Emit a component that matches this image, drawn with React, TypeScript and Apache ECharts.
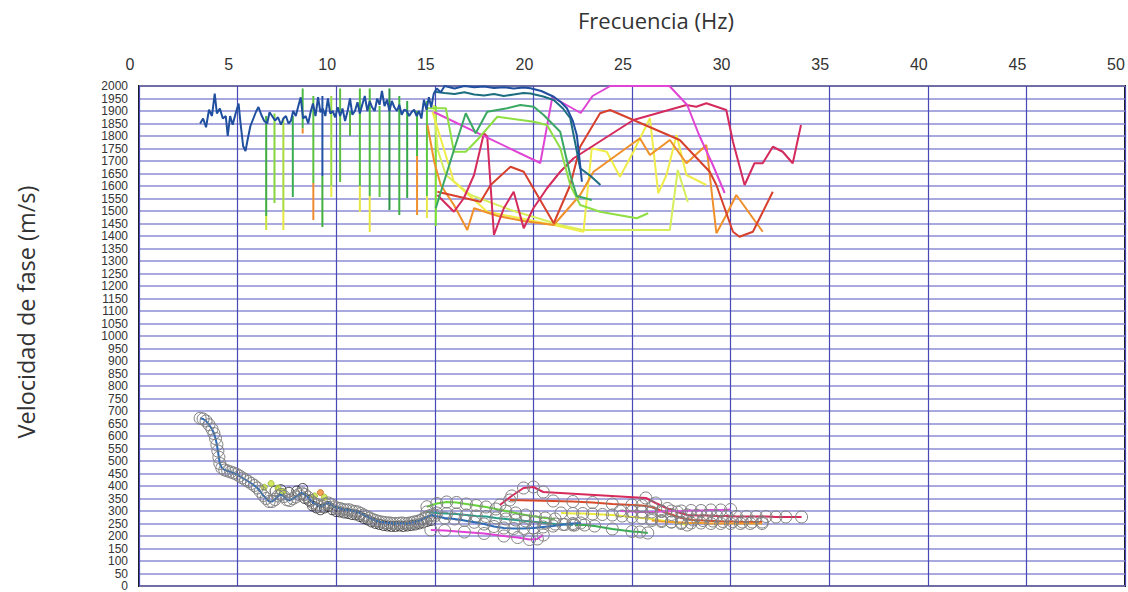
import React, { useEffect, useRef } from "react";
import * as echarts from "echarts";

type Pt = [number, number];

// ---------- upper band: picked phase-velocity traces (Hz, m/s) ----------
const upperBlue: Pt[] = [
  [3.1, 1850], [3.25, 1870], [3.4, 1835], [3.55, 1905], [3.7, 1880], [3.84, 1970], [3.95, 1890],
  [4.1, 1910], [4.25, 1870], [4.4, 1880], [4.5, 1800], [4.62, 1880], [4.75, 1845], [4.9, 1890],
  [5.05, 1930], [5.15, 1850], [5.28, 1760], [5.4, 1740], [5.52, 1790], [5.65, 1840], [5.8, 1870],
  [5.95, 1900], [6.06, 1916], [6.2, 1885], [6.35, 1860], [6.5, 1850], [6.62, 1895], [6.75, 1880],
  [6.9, 1862], [7.05, 1875], [7.2, 1845], [7.32, 1870], [7.45, 1880], [7.58, 1850], [7.7, 1860],
  [7.82, 1900], [7.95, 1880], [8.08, 1920], [8.2, 1955], [8.32, 1870], [8.45, 1880], [8.58, 1850],
  [8.7, 1895], [8.82, 1930], [8.95, 1880], [9.08, 1955], [9.2, 1895], [9.32, 1910], [9.45, 1880],
  [9.58, 1950], [9.7, 1890], [9.82, 1900], [9.95, 1875], [10.08, 1915], [10.2, 1880], [10.32, 1910],
  [10.45, 1860], [10.58, 1900], [10.7, 1950], [10.82, 1885], [10.95, 1900], [11.08, 1935], [11.2, 1890],
  [11.32, 1925], [11.45, 1960], [11.58, 1900], [11.7, 1940], [11.82, 1915], [11.95, 1900], [12.08, 1950],
  [12.2, 1925], [12.32, 1980], [12.45, 1920], [12.58, 1945], [12.7, 1900], [12.82, 1940], [12.95, 1915],
  [13.08, 1900], [13.2, 1925], [13.32, 1885], [13.45, 1905], [13.58, 1900], [13.7, 1880], [13.82, 1895],
  [13.95, 1905], [14.08, 1880], [14.2, 1900], [14.32, 1870], [14.45, 1945], [14.58, 1905], [14.7, 1955],
  [14.82, 1915], [14.95, 1970], [15.1, 1990], [15.3, 1975], [15.5, 2000], [16.0, 1990], [16.5, 2000],
  [17.0, 1995], [17.5, 1998], [18.0, 1992], [18.5, 1995], [19.0, 1990], [19.5, 1994], [19.85, 1991],
  [20.4, 1980], [21.03, 1957], [21.4, 1935], [21.7, 1911], [22.0, 1860], [22.2, 1804], [22.35, 1700],
  [22.46, 1617],
];

const upperTeal: Pt[] = [
  [14.97, 1977], [15.5, 1972], [16.0, 1968], [16.5, 1975], [17.0, 1966], [17.5, 1962], [18.0, 1968],
  [18.5, 1960], [19.0, 1966], [19.5, 1972], [19.85, 1970], [20.5, 1958], [21.03, 1944], [21.5, 1910],
  [21.87, 1871], [22.1, 1780], [22.37, 1671], [22.9, 1640], [23.4, 1604],
];

const upperGreen: Pt[] = [
  [15.05, 1511], [15.97, 1744], [16.57, 1891], [17.07, 1811], [17.66, 1897], [18.67, 1911],
  [19.34, 1924], [20.02, 1917], [20.52, 1884], [21.36, 1817], [21.87, 1644], [22.2, 1560], [22.96, 1544],
];

const upperLightGreen: Pt[] = [
  [14.63, 1911], [15.56, 1911], [15.97, 1737], [16.57, 1737], [17.15, 1784], [18.17, 1877],
  [20.02, 1857], [20.69, 1844], [21.36, 1752], [21.87, 1604], [22.37, 1524], [23.38, 1497],
  [25.24, 1471], [25.82, 1491],
];

const upperMagenta: Pt[] = [
  [14.95, 1896], [20.35, 1692], [20.96, 1956], [22.4, 1892], [23.0, 1960], [23.9, 2000],
  [26.9, 2000], [27.8, 1924], [28.4, 1804], [29.1, 1684], [29.7, 1572],
];

const upperCrimson: Pt[] = [
  [15.13, 1564], [15.97, 1497], [16.47, 1551], [16.99, 1644], [17.49, 1811], [17.66, 1797],
  [18.0, 1404], [18.5, 1511], [19.0, 1577], [19.51, 1431], [20.0, 1511], [20.69, 1591],
  [21.36, 1657], [22.04, 1711], [25.07, 1864], [27.76, 1924], [28.26, 1917], [28.77, 1931],
  [29.78, 1904], [30.12, 1777], [30.71, 1604], [31.21, 1691], [31.63, 1691], [32.14, 1757],
  [32.64, 1737], [33.15, 1691], [33.57, 1844],
];

const upperRed: Pt[] = [
  [15.13, 1577], [17.32, 1537], [17.83, 1604], [18.84, 1677], [19.51, 1657], [21.03, 1451],
  [21.87, 1604], [22.37, 1757], [23.38, 1891], [23.89, 1904], [25.07, 1864], [27.42, 1784],
  [28.94, 1657], [29.28, 1604], [30.12, 1417], [30.45, 1397], [31.13, 1417], [32.14, 1577],
];

const upperOrange: Pt[] = [
  [14.63, 1844], [14.97, 1697], [15.3, 1604], [15.97, 1524], [16.65, 1424], [16.99, 1511],
  [18.2, 1480], [19.5, 1460], [21.03, 1444], [22.37, 1564], [23.05, 1657], [25.4, 1791],
  [25.91, 1724], [26.92, 1784], [27.76, 1691], [28.77, 1764], [29.28, 1411], [29.78, 1484],
  [30.29, 1564], [31.63, 1417],
];

const upperYellow: Pt[] = [
  [14.88, 1897], [15.97, 1617], [17.66, 1497], [19.34, 1471], [21.03, 1444], [22.54, 1417],
  [22.96, 1751], [23.72, 1737], [24.39, 1637], [25.07, 1737], [25.91, 1871], [26.33, 1571],
  [26.75, 1644], [27.26, 1804], [27.76, 1644], [28.77, 1604],
];

const upperYellowGreen: Pt[] = [
  [14.95, 1924], [15.15, 1744], [15.56, 1644], [16.82, 1564], [18.84, 1504], [21.36, 1444],
  [22.5, 1424], [26.92, 1424], [27.32, 1664], [27.83, 1536],
];

// vertical jumps of the picked trace between 6 and 15 Hz
const dropFreq = [6.45, 6.87, 7.32, 7.8, 8.3, 8.84, 9.3, 9.75, 10.2, 10.7, 11.2, 11.7, 12.2, 12.7, 13.2, 13.6, 14.1, 14.6, 15.05];
const dropTop = [1880, 1890, 1870, 1880, 1990, 1960, 1960, 1960, 1990, 1900, 1990, 1990, 1920, 1990, 1960, 1940, 1900, 1940, 1920];
const dropSplit = [1480, 1532, 1500, 1556, 1830, 1612, 1640, 1600, 1616, 1800, 1600, 1560, 1556, 1504, 1484, 1552, 1720, 1560, 1440];
const dropBottom = [1424, 1532, 1424, 1556, 1810, 1464, 1436, 1556, 1616, 1800, 1496, 1416, 1556, 1504, 1484, 1552, 1484, 1472, 1440];

// ---------- lower band: dispersion curves with picked points ----------
const mainCurve: Pt[] = [
  [3.1, 671], [3.25, 668], [3.4, 660], [3.55, 645], [3.7, 628], [3.8, 610], [3.88, 590], [3.95, 565],
  [4.0, 540], [4.05, 515], [4.1, 490], [4.2, 472], [4.35, 464], [4.5, 460], [4.65, 456], [4.8, 452],
  [4.95, 447], [5.1, 440], [5.25, 432], [5.4, 425], [5.55, 418], [5.7, 410], [5.85, 402], [6.0, 392],
  [6.15, 378], [6.3, 362], [6.45, 350], [6.6, 338], [6.75, 338], [6.9, 346], [7.05, 360], [7.2, 366],
  [7.35, 358], [7.5, 345], [7.65, 342], [7.8, 350], [7.95, 356], [8.1, 366], [8.25, 372], [8.4, 366],
  [8.55, 356], [8.7, 342], [8.85, 332], [9.0, 326], [9.15, 318], [9.3, 318], [9.45, 328], [9.6, 332],
  [9.75, 326], [9.9, 316], [10.05, 312], [10.2, 310], [10.35, 306], [10.5, 304], [10.65, 305], [10.8, 300],
  [10.95, 298], [11.1, 296], [11.25, 290], [11.4, 284], [11.55, 278], [11.7, 272], [11.85, 266], [12.0, 262],
  [12.15, 258], [12.3, 256], [12.45, 254], [12.6, 252], [12.75, 252], [12.9, 250], [13.05, 250], [13.2, 251],
  [13.35, 252], [13.5, 250], [13.65, 251], [13.8, 253], [13.95, 256], [14.1, 258], [14.25, 262], [14.4, 268],
  [14.55, 274], [14.7, 280], [14.85, 284], [15.0, 280], [15.5, 272], [16.0, 268], [16.5, 262], [17.0, 255],
  [17.5, 248], [18.0, 238], [18.5, 232], [19.0, 230], [19.5, 230], [20.0, 232], [20.5, 236], [21.0, 240],
  [21.5, 246], [22.0, 250], [22.4, 252],
];

const darkPicks: Pt[] = [
  [6.9, 380], [7.2, 385], [7.6, 375], [8.0, 380], [8.3, 390], [8.4, 350], [8.6, 342], [8.8, 320],
  [9.0, 312], [9.2, 305], [9.4, 312], [9.6, 318], [9.8, 305], [10.0, 298], [10.2, 296], [10.4, 292],
  [10.6, 290], [10.8, 286], [11.0, 284], [11.2, 278], [11.4, 270], [11.6, 264], [11.8, 256], [12.0, 250],
  [12.2, 246], [12.4, 242], [12.6, 240], [12.8, 238], [13.0, 238], [13.2, 240], [13.4, 238], [13.6, 240],
  [13.8, 242], [14.0, 244], [14.2, 248], [14.4, 252], [14.6, 258], [14.8, 262],
];

const yellowPicks: Pt[] = [[6.35, 395], [6.7, 410], [7.05, 392], [7.3, 378], [8.9, 360], [9.4, 355]];
const orangePicks: Pt[] = [[9.2, 374]];

const lowLightGreen: Pt[] = [
  [14.6, 317], [15.1, 330], [15.6, 336], [16.1, 334], [16.6, 328], [17.1, 322], [17.6, 316],
  [18.1, 308], [18.6, 300], [19.1, 292], [19.6, 284], [20.1, 278], [20.6, 272], [21.1, 268],
];
const lowTeal: Pt[] = [
  [14.6, 296], [15.1, 292], [15.6, 290], [16.1, 288], [16.6, 284], [17.1, 280], [17.6, 278],
  [18.1, 272], [18.6, 268], [19.1, 264], [19.6, 260], [20.1, 256], [20.6, 252], [21.1, 248],
  [21.6, 246], [22.0, 244],
];
const lowGreen: Pt[] = [[22.1, 244], [22.6, 244], [23.1, 240], [24.0, 228], [25.0, 218], [25.4, 216], [25.8, 212]];
const lowMagenta: Pt[] = [
  [14.8, 224], [15.5, 222], [16.5, 216], [17.5, 210], [18.5, 200], [19.2, 194], [19.8, 186],
  [20.2, 188], [20.5, 204],
];
const lowCrimson: Pt[] = [
  [18.3, 324], [18.9, 360], [19.5, 392], [20.0, 396], [20.5, 376], [25.7, 352], [26.2, 332],
  [26.8, 310], [27.3, 296], [27.8, 284], [28.3, 282], [28.8, 282], [29.3, 280], [29.8, 280],
  [30.3, 278], [30.8, 278], [31.3, 278], [31.8, 278], [32.3, 276], [32.8, 276], [33.6, 276],
];
const lowRed: Pt[] = [
  [18.8, 344], [21.0, 340], [22.0, 338], [23.0, 334], [24.0, 328], [25.0, 324], [25.5, 322],
  [26.0, 316], [26.5, 300], [27.0, 286], [27.5, 272], [28.1, 264], [28.6, 262], [29.1, 260],
  [29.6, 258], [30.1, 258], [30.6, 256], [31.1, 256], [31.6, 256],
];
const lowYellow: Pt[] = [
  [21.4, 292], [22.0, 290], [22.5, 290], [23.0, 288], [23.5, 286], [24.0, 284], [24.5, 280],
  [25.0, 276], [25.5, 272], [26.0, 268], [26.5, 262], [27.0, 256], [27.5, 250], [27.8, 244],
];
const lowOrange: Pt[] = [
  [26.0, 262], [26.5, 258], [27.0, 256], [27.5, 254], [28.0, 252], [28.5, 252], [29.0, 250],
  [29.5, 250], [30.0, 250], [30.5, 250], [31.0, 250], [31.6, 250],
];
const lowPink: Pt[] = [
  [24.4, 300], [25.0, 298], [25.5, 296], [26.0, 296], [26.5, 298], [27.0, 300], [27.5, 300],
  [28.0, 302], [28.5, 302], [29.0, 304], [29.5, 304], [30.0, 306],
];

// colours of the upper and lower part of every vertical jump
const dropUpperColors = ["#3fae3c", "#86d63e", "#a8dc3c", "#3cae52", "#4cb848", "#5cc23e", "#2452a4", "#98dc40", "#5cc040", "#58b848", "#52c03c", "#4cbc3c", "#5ec644", "#2c9446", "#40b244", "#36a848", "#48b840", "#5cc83e", "#78e030"];
const dropLowerColors = ["#c8e43a", "#86d63e", "#e6e642", "#3cae52", "#ee8a2c", "#f08a30", "#44b040", "#e8e848", "#5cc040", "#58b848", "#e4e444", "#e8e440", "#5ec644", "#2c9446", "#40b244", "#36a848", "#f0902c", "#e6e646", "#78e030"];

const plainLine = (name: string, data: Pt[], color: string, width = 2, z = 3) => ({
  type: "line",
  name,
  data,
  symbol: "none",
  silent: true,
  z,
  lineStyle: { color, width },
  itemStyle: { color },
});

const circledLine = (name: string, data: Pt[], color: string, z = 5) => ({
  type: "line",
  name,
  data,
  symbol: "circle",
  symbolSize: 12,
  showSymbol: true,
  silent: true,
  z,
  lineStyle: { color, width: 2 },
  itemStyle: { color: "rgba(255,255,255,0)", borderColor: "#808080", borderWidth: 1 },
});

const dotScatter = (name: string, data: Pt[], fill: string, border: string, size: number) => ({
  type: "scatter",
  name,
  data,
  symbolSize: size,
  silent: true,
  z: 4,
  itemStyle: { color: fill, borderColor: border, borderWidth: 1 },
});

function buildOption() {
  const dropSeries: any[] = [];
  dropFreq.forEach((f, i) => {
    dropSeries.push(plainLine(`salto-a-${i}`, [[f, dropTop[i]], [f, dropSplit[i]]], dropUpperColors[i], 2, 2));
    if (dropBottom[i] !== dropSplit[i]) {
      dropSeries.push(plainLine(`salto-b-${i}`, [[f, dropSplit[i]], [f, dropBottom[i]]], dropLowerColors[i], 2, 2));
    }
  });

  return {
    animation: false,
    backgroundColor: "#ffffff",
    grid: {
      left: 139,
      right: 3,
      top: 86,
      bottom: 6,
      show: true,
      borderColor: "#1a1a1a",
      borderWidth: 2,
      backgroundColor: "transparent",
    },
    xAxis: {
      type: "value",
      position: "top",
      min: 0,
      max: 50,
      interval: 5,
      axisLine: { show: false },
      axisTick: { show: false },
      axisLabel: {
        margin: 14,
        fontSize: 16,
        color: "#333",
        fontFamily: "Liberation Sans, Arial, sans-serif",
        padding: [0, 18, 0, 0],
      },
      splitLine: { show: true, lineStyle: { color: "#4848b6", width: 1.2 } },
    },
    yAxis: {
      type: "value",
      min: 0,
      max: 2000,
      interval: 50,
      axisLine: { show: false },
      axisTick: { show: false },
      axisLabel: {
        margin: 11,
        fontSize: 12,
        lineHeight: 12,
        color: "#333",
        fontFamily: "Liberation Sans, Arial, sans-serif",
        showMinLabel: true,
        showMaxLabel: true,
        hideOverlap: false,
        formatter: (v: number) => String(v),
      },
      splitLine: { show: true, lineStyle: { color: "#8c8cd4", width: 1.5 } },
    },
    graphic: [
      {
        type: "text",
        x: 656,
        y: 20,
        style: {
          text: "Frecuencia (Hz)",
          fill: "#333",
          fontSize: 22,
          fontFamily: "Open Sans, Noto Sans, sans-serif",
          align: "center",
          verticalAlign: "middle",
          textAlign: "center",
          textVerticalAlign: "middle",
        },
      },
      {
        type: "text",
        x: 26,
        y: 312,
        rotation: Math.PI / 2,
        style: {
          text: "Velocidad de fase (m/s)",
          fill: "#333",
          fontSize: 23.5,
          fontFamily: "Open Sans, Noto Sans, sans-serif",
          align: "center",
          verticalAlign: "middle",
          textAlign: "center",
          textVerticalAlign: "middle",
        },
      },
    ],
    series: [
      ...dropSeries,
      plainLine("amarillo-verde", upperYellowGreen, "#d6ee5c"),
      plainLine("amarillo", upperYellow, "#f0ec4a"),
      plainLine("naranja", upperOrange, "#f0902a"),
      plainLine("rojo", upperRed, "#d6402c"),
      plainLine("carmesí", upperCrimson, "#d42a5c"),
      plainLine("magenta", upperMagenta, "#e044d4"),
      plainLine("verde claro", upperLightGreen, "#8ede44"),
      plainLine("verde", upperGreen, "#3aa862"),
      plainLine("turquesa", upperTeal, "#1d6e80"),
      plainLine("azul", upperBlue, "#1f4f9e", 2, 4),
      dotScatter("picks oscuros", darkPicks, "rgba(0,0,0,0)", "#1e1e1e", 10),
      circledLine("curva principal", mainCurve, "#2e6cb6", 6),
      circledLine("verde claro inf", lowLightGreen, "#66d43a"),
      circledLine("turquesa inf", lowTeal, "#22a08c"),
      circledLine("verde inf", lowGreen, "#34b050"),
      circledLine("magenta inf", lowMagenta, "#e040d6"),
      circledLine("carmesí inf", lowCrimson, "#d82a5a"),
      circledLine("rojo inf", lowRed, "#d84a2a"),
      circledLine("amarillo inf", lowYellow, "#eaea3c"),
      circledLine("naranja inf", lowOrange, "#f0a02a"),
      circledLine("rosa inf", lowPink, "#e050e0"),
      dotScatter("picks amarillos", yellowPicks, "#c6e23a", "#9ab82a", 6),
      dotScatter("picks naranjas", orangePicks, "#f08a2a", "#c86a1a", 6),
    ],
  };
}

export default function App() {
  const ref = useRef<HTMLDivElement>(null);
  useEffect(() => {
    if (!ref.current) return;
    const chart = echarts.init(ref.current, null, { renderer: "svg" });
    chart.setOption(buildOption() as any);
    return () => chart.dispose();
  }, []);
  return (
    <div
      ref={ref}
      style={{ position: "fixed", left: 0, top: 0, width: 1128, height: 592, background: "#fff" }}
    />
  );
}
